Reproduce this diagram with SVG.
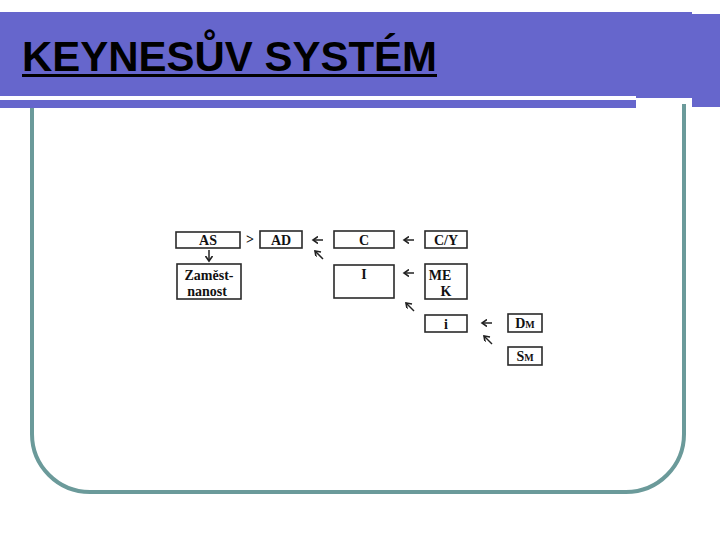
<svg xmlns="http://www.w3.org/2000/svg" width="720" height="540" viewBox="0 0 720 540">
<style>
.band{fill:#6666cc}
.box{fill:#ffffff;stroke:#2a2a2a;stroke-width:1.6}
.lbl{font-family:"Liberation Serif","Times New Roman",serif;font-weight:bold;font-size:14px;fill:#111;text-anchor:middle}
.sub{font-size:10px}
.arr{fill:none;stroke:#222;stroke-width:1.5;marker-end:url(#ah)}
</style>
<defs>
<marker id="ah" markerUnits="userSpaceOnUse" markerWidth="8" markerHeight="8" refX="5" refY="3.5" orient="auto">
<path d="M0,0 L5,3.5 L0,7" fill="none" stroke="#222" stroke-width="1.6"/>
</marker>
</defs>
<rect width="720" height="540" fill="#ffffff"/>
<path d="M32,104 V434 A58,58 0 0 0 90,492 H626 A58,58 0 0 0 684,434 V104" fill="none" stroke="#6b9a9a" stroke-width="4"/>
<g id="header">
<rect class="band" x="0" y="12" width="692" height="86"/>
<rect class="band" x="0" y="100" width="636" height="8"/>
<rect class="band" x="692" y="14" width="28" height="93"/>
<rect x="0" y="96" width="636" height="3.5" fill="#ffffff"/>
<text x="22" y="71" font-family="'Liberation Sans',Arial,sans-serif" font-weight="bold" font-size="42" textLength="415" lengthAdjust="spacingAndGlyphs" fill="#000">KEYNESŮV SYSTÉM</text>
<rect x="22" y="74" width="415" height="3" fill="#000"/>
</g>
<g id="connectors">
<path class="arr" d="M209,250 V261"/>
<path class="arr" d="M323,240 H313"/>
<path class="arr" d="M323,259 L315,251"/>
<path class="arr" d="M414,240 H404"/>
<path class="arr" d="M414,273 H404"/>
<path class="arr" d="M414,311 L406,303"/>
<path class="arr" d="M492,323 H482"/>
<path class="arr" d="M492,344 L484,336"/>
<text class="lbl" x="250" y="244">&gt;</text>
</g>
<g id="AS"><rect class="box" x="176" y="232" width="64" height="16"/><text class="lbl" x="208" y="245">AS</text></g>
<g id="AD"><rect class="box" x="260" y="231" width="42" height="17"/><text class="lbl" x="281" y="245">AD</text></g>
<g id="C"><rect class="box" x="334" y="231" width="60" height="17"/><text class="lbl" x="364" y="245">C</text></g>
<g id="CY"><rect class="box" x="425" y="231" width="42" height="17"/><text class="lbl" x="446" y="245">C/Y</text></g>
<g id="zamestnanost"><rect class="box" x="177" y="264" width="64" height="35"/><text class="lbl" x="209" y="280">Zaměst-</text><text class="lbl" x="207" y="296">nanost</text></g>
<g id="I"><rect class="box" x="334" y="265" width="60" height="33"/><text class="lbl" x="364" y="279">I</text></g>
<g id="MEK"><rect class="box" x="425" y="264" width="42" height="35"/><text class="lbl" x="440" y="280">ME</text><text class="lbl" x="446" y="296">K</text></g>
<g id="i"><rect class="box" x="425" y="315" width="42" height="17"/><text class="lbl" x="446" y="329">i</text></g>
<g id="DM"><rect class="box" x="508" y="314" width="34" height="18"/><text class="lbl" x="525" y="328">D<tspan class="sub">M</tspan></text></g>
<g id="SM"><rect class="box" x="508" y="347" width="34" height="18"/><text class="lbl" x="525" y="361">S<tspan class="sub">M</tspan></text></g>
</svg>
